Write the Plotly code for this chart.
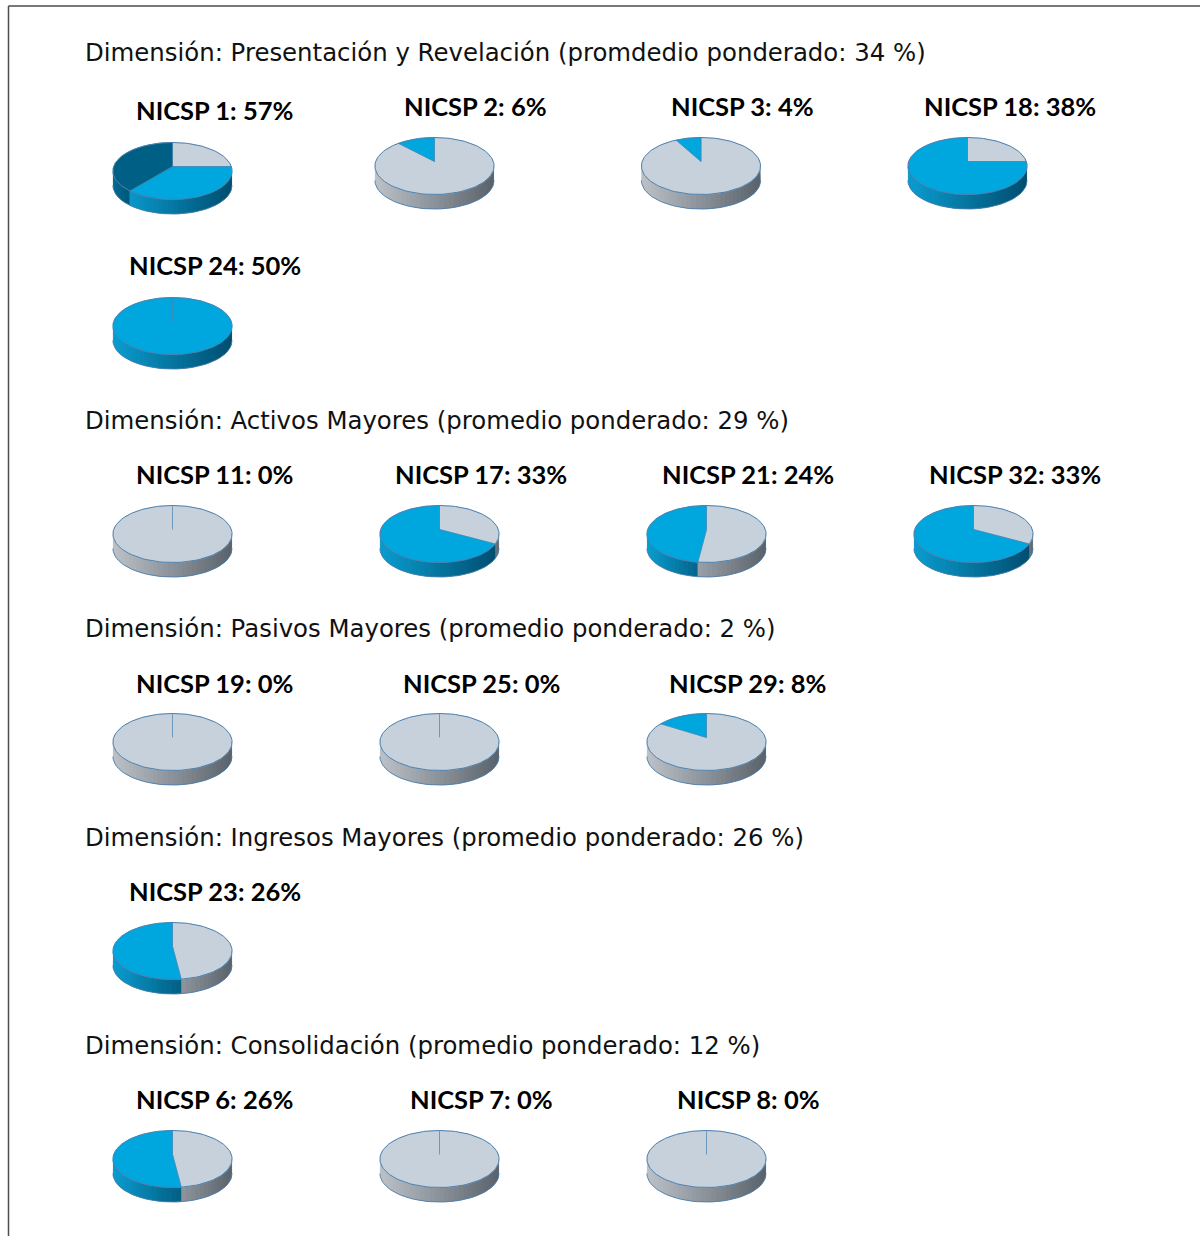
import numpy as np
import plotly.graph_objects as go

# ---- data ----
SECTION_TITLES = [
    "Dimensión: Presentación y Revelación (promdedio ponderado: 34 %)",
    "Dimensión: Activos Mayores (promedio ponderado: 29 %)",
    "Dimensión: Pasivos Mayores (promedio ponderado: 2 %)",
    "Dimensión: Ingresos Mayores (promedio ponderado: 26 %)",
    "Dimensión: Consolidación (promedio ponderado: 12 %)",
]
PIE_NAMES = ["NICSP 1", "NICSP 2", "NICSP 3", "NICSP 18", "NICSP 24",
             "NICSP 11", "NICSP 17", "NICSP 21", "NICSP 32",
             "NICSP 19", "NICSP 25", "NICSP 29",
             "NICSP 23",
             "NICSP 6", "NICSP 7", "NICSP 8"]
PIE_PERCENT = [57, 6, 4, 38, 50, 0, 33, 24, 33, 0, 0, 8, 26, 26, 0, 0]
SHARE_GREY = [25, 88, 92, 25, 0, 100, 33, 52, 33, 100, 100, 84, 48, 48, 100, 100]
SHARE_BLUE = [36, 12, 8, 75, 100, 0, 67, 48, 67, 0, 0, 16, 52, 52, 0, 0]
SHARE_DARK = [39, 0, 0, 0, 0, 0, 0, 0, 0, 0, 0, 0, 0, 0, 0, 0]

# ---- layout (pixels on the 1200x1236 page) ----
W, H = 1200, 1236
PIE_CX = [172.5, 434.5, 701, 967.5, 172.5,
          172.5, 439.5, 706.5, 973.5,
          172.5, 439.5, 706.5,
          172.5,
          172.5, 439.5, 706.5]
PIE_APEX = [166.5, 161.5, 161.5, 161.5, 321.5,
            529.5, 529.5, 529.5, 529.5,
            737.5, 737.5, 737.5,
            946.5,
            1154.5, 1154.5, 1154.5]
LABEL_X = [214.5, 475.5, 742.5, 1009.5, 214.5,
           214.5, 481, 748, 1015,
           214.5, 481, 747.5,
           214.5,
           214.5, 481, 748]
LABEL_Y = [110.5, 105.5, 105.5, 105.5, 265.5,
           473.5, 473.5, 473.5, 473.5,
           682.5, 682.5, 682.5,
           890.5,
           1098.5, 1098.5, 1098.5]
SECTION_Y = [52, 420, 628, 837, 1045]
SECTION_X = 83

RX, RY, K = 58.8, 27.8, 0.158
DEPTH = 14.5 / RX
EDGE = "#4b7fae"
TOPS = ["#c6d1db", "#00a7de", "#005f85"]
WALL_LIGHT = [(188, 193, 199), (10, 156, 207), (0, 106, 144)]
WALL_DARK = [(90, 98, 107), (0, 78, 112), (0, 72, 102)]
PAGE_WEIGHT = [0.8, 0.5, 0.5]


def rim(theta_deg):
    t = np.radians(theta_deg)
    w = 1 + K * np.cos(t)
    return np.sin(t) / w, (RY / RX) * np.cos(t) / w


def mix(a, b, t):
    t = min(max(t, 0), 1)
    return "rgb(%d,%d,%d)" % tuple(round(a[i] + (b[i] - a[i]) * t) for i in range(3))


fig = go.Figure()
common = dict(mode="lines", hoverinfo="skip", showlegend=False)
layout_axes = {}
annotations = []

for i in range(len(PIE_NAMES)):
    suffix = "" if i == 0 else str(i + 1)
    xa, ya = "x" + suffix, "y" + suffix
    half_w = 1.2 * RX
    layout_axes["xaxis" + suffix] = dict(
        domain=[(PIE_CX[i] - half_w) / W, (PIE_CX[i] + half_w) / W],
        range=[-1.2, 1.2], visible=False, fixedrange=True)
    layout_axes["yaxis" + suffix] = dict(
        domain=[1 - (PIE_APEX[i] + 1.0 * RX) / H, 1 - (PIE_APEX[i] - 0.6 * RX) / H],
        range=[-1.0, 0.6], visible=False, fixedrange=True)

    shares = [SHARE_GREY[i], SHARE_BLUE[i], SHARE_DARK[i]]
    ends = np.cumsum(shares) * 3.6
    starts = ends - np.array(shares) * 3.6

    # side wall: overlapping bands so no seams appear between them
    for s in range(3):
        a, b = max(starts[s], 99), min(ends[s], 261)
        if b <= a:
            continue
        n = max(2, int((b - a) / 4))
        edges = np.linspace(a, b, n + 1)
        xa_lo, xa_hi = rim(b)[0], rim(a)[0]
        for j in range(n):
            th = np.linspace(edges[j], edges[min(j + 2, n)], 5)
            xs, ys = rim(th)
            xm = rim((edges[j] + edges[j + 1]) / 2)[0]
            t_page = (xm + 1) / 2
            t_slice = (xm - xa_lo) / (xa_hi - xa_lo)
            pw = PAGE_WEIGHT[s]
            col = mix(WALL_LIGHT[s], WALL_DARK[s], pw * t_page + (1 - pw) * t_slice)
            fig.add_trace(go.Scatter(
                x=np.r_[xs, xs[::-1], xs[0]],
                y=np.r_[ys, ys[::-1] - DEPTH, ys[0]],
                fill="toself", fillcolor=col, line=dict(width=0),
                xaxis=xa, yaxis=ya, **common))

    # wall outline
    th = np.linspace(99, 261, 50)
    xs, ys = rim(th)
    fig.add_trace(go.Scatter(x=xs, y=ys - DEPTH, line=dict(color=EDGE, width=0.9),
                             xaxis=xa, yaxis=ya, **common))

    # top face
    for s in range(3):
        if shares[s] == 0:
            continue
        th = np.linspace(starts[s], ends[s], max(3, int(shares[s] * 2)))
        xs, ys = rim(th)
        if shares[s] < 100:
            xs, ys = np.r_[0, xs, 0], np.r_[0, ys, 0]
        fig.add_trace(go.Scatter(x=xs, y=ys, fill="toself", fillcolor=TOPS[s],
                                 line=dict(color=TOPS[s], width=0.5),
                                 xaxis=xa, yaxis=ya, **common))
    # rim outline
    th = np.linspace(0, 360, 120)
    xs, ys = rim(th)
    fig.add_trace(go.Scatter(x=xs, y=ys, line=dict(color=EDGE, width=1),
                             xaxis=xa, yaxis=ya, **common))
    # slice boundaries
    for s in range(3):
        if shares[s] == 0:
            continue
        x_e, y_e = rim(starts[s])
        fig.add_trace(go.Scatter(x=[0, x_e], y=[0, y_e],
                                 line=dict(color=EDGE, width=0.7),
                                 xaxis=xa, yaxis=ya, **common))

    annotations.append(dict(
        text=f"<b>{PIE_NAMES[i]}: {PIE_PERCENT[i]}%</b>",
        x=LABEL_X[i] / W, y=1 - LABEL_Y[i] / H, xref="paper", yref="paper",
        xanchor="center", yanchor="middle", showarrow=False,
        font=dict(family="Lato", size=25.5, color="#000000")))

for title, y in zip(SECTION_TITLES, SECTION_Y):
    annotations.append(dict(
        text=title, x=SECTION_X / W, y=1 - y / H, xref="paper", yref="paper",
        xanchor="left", yanchor="middle", showarrow=False,
        font=dict(family="DejaVu Sans", size=24.4, color="#111111")))

shapes = [
    dict(type="line", xref="paper", yref="paper", x0=8.5 / W, x1=1,
         y0=1 - 6 / H, y1=1 - 6 / H, line=dict(color="#4d4d4d", width=1.5)),
    dict(type="line", xref="paper", yref="paper", x0=8.5 / W, x1=8.5 / W,
         y0=1 - 6 / H, y1=0, line=dict(color="#4d4d4d", width=1.5)),
]

fig.update_layout(width=W, height=H, margin=dict(l=0, r=0, t=0, b=0),
                  paper_bgcolor="#ffffff", plot_bgcolor="rgba(0,0,0,0)",
                  annotations=annotations, shapes=shapes, **layout_axes)

fig.write_html("out.html", config={"displayModeBar": False},
               post_script="document.body.style.margin='0';document.documentElement.style.overflow='hidden';")
